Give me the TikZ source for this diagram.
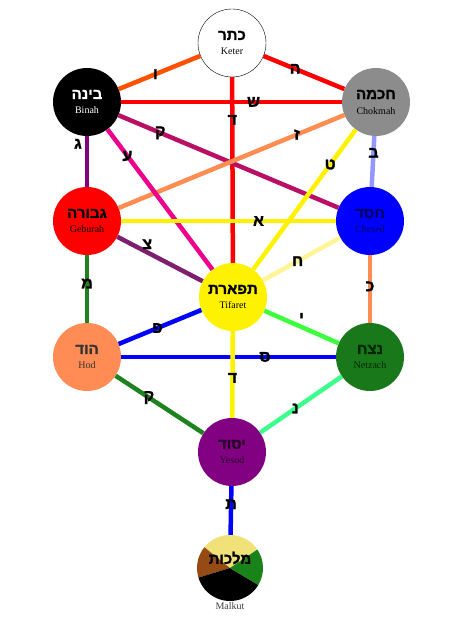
\documentclass[tikz,border=0pt]{standalone}
\usepackage{fontspec}
\usetikzlibrary{positioning}
\setmainfont{Liberation Serif}
\newfontfamily\hebfont[Script=Hebrew,BoldFeatures={FakeBold=1.5}]{Liberation Sans}
\TeXXeTstate=1
\newcommand{\heb}[1]{{\hebfont\bfseries\beginR #1\endR}}
\definecolor{chokgray}{RGB}{140,140,140}
\definecolor{hodorange}{RGB}{255,140,85}
\definecolor{netzgreen}{RGB}{25,120,25}
\definecolor{yespurple}{RGB}{130,0,130}
\definecolor{citrine}{RGB}{240,225,120}
\definecolor{russet}{RGB}{150,75,20}
\definecolor{malkgreen}{RGB}{25,130,25}
\definecolor{orangered}{RGB}{255,80,0}
\definecolor{crimsonp}{RGB}{185,15,100}
\definecolor{violetp}{RGB}{128,0,128}
\definecolor{lightorange}{RGB}{255,140,80}
\definecolor{lavender}{RGB}{150,150,255}
\definecolor{plump}{RGB}{125,30,110}
\definecolor{paleyellow}{RGB}{255,245,150}
\definecolor{pathgreen}{RGB}{30,130,30}
\definecolor{lightgreen}{RGB}{60,255,60}
\definecolor{springp}{RGB}{60,255,140}
\begin{document}
\begin{tikzpicture}[x=1pt,y=1pt,
	sefira/.style={circle,minimum size=68pt,inner sep=0pt,align=center,font=\fontsize{10}{15}\selectfont},
	conn/.style={line width=4.5pt},
	letter/.style={inner sep=0pt,text=black,font=\hebfont\bfseries\fontsize{16}{16}\selectfont}]
	\useasboundingbox (0,0) rectangle (464,619);
	% sefirot
	\node[sefira,fill=white,draw=black] (keter) at (232,576) {\heb{\fontsize{15}{15}\selectfont כתר}\\Keter};
	\node[sefira,fill=black,text=white] (binah) at (87,517) {\heb{\fontsize{15}{15}\selectfont בינה}\\Binah};
	\node[sefira,fill=chokgray] (chokmah) at (376,517) {\heb{\fontsize{15}{15}\selectfont חכמה}\\Chokmah};
	\node[sefira,fill=red] (geburah) at (87,398) {\heb{\fontsize{15}{15}\selectfont גבורה}\\Geburah};
	\node[sefira,fill=blue,text=blue!40!black] (chesed) at (370,398) {\heb{\fontsize{15}{15}\selectfont חסד}\\Chesed};
	\node[sefira,fill=yellow] (tifaret) at (233,322) {\heb{\fontsize{15}{15}\selectfont תפארת}\\Tifaret};
	\node[sefira,fill=hodorange,text=black!80] (hod) at (87,262) {\heb{\fontsize{15}{15}\selectfont הוד}\\Hod};
	\node[sefira,fill=netzgreen,text=black!85!green] (netzach) at (370,262) {\heb{\fontsize{15}{15}\selectfont נצח}\\Netzach};
	\node[sefira,fill=yespurple,text=black!70!violet] (yesod) at (232,167) {\heb{\fontsize{15}{15}\selectfont יסוד}\\Yesod};
	\node[circle,minimum size=66pt,inner sep=0pt] (malkut) at (230,51) {};
	\fill[citrine] (malkut.center) -- ++(34:33) arc[start angle=34,end angle=141,radius=33] -- cycle;
	\fill[russet] (malkut.center) -- ++(141:33) arc[start angle=141,end angle=197,radius=33] -- cycle;
	\fill[black] (malkut.center) -- ++(197:33) arc[start angle=197,end angle=329,radius=33] -- cycle;
	\fill[malkgreen] (malkut.center) -- ++(329:33) arc[start angle=329,end angle=394,radius=33] -- cycle;
	\node[font=\hebfont\bfseries\fontsize{15}{15}\selectfont] (malkheb) at ([yshift=10pt]malkut.center) {\beginR מלכות\endR};
	\node[below=1pt of malkut,inner sep=0pt,font=\fontsize{10}{10}\selectfont,text=black!75] (malklabel) {Malkut};
	% paths
	\draw[conn,red] (keter) -- node[letter,pos=.23] {ד} (tifaret);
	\draw[conn,orangered] (keter) -- node[letter,pos=.55] {ו} (binah);
	\draw[conn,red] (keter) -- node[letter,pos=.39] {ה} (chokmah);
	\draw[conn,red] (binah) -- node[letter,pos=.6] {ש} (chokmah);
	\draw[conn,crimsonp] (binah) -- node[letter,pos=.19] {ק} (chesed);
	\draw[conn,lightorange] (chokmah) -- node[letter,pos=.21] {ז} (geburah);
	\draw[conn,violetp] (binah) -- node[letter,pos=.15,left=3pt] {ג} (geburah);
	\draw[conn,magenta] (binah) -- node[letter,pos=.19] {ע} (tifaret);
	\draw[conn,yellow] (chokmah) -- node[letter,pos=.25] {ט} (tifaret);
	\draw[conn,lavender] (chokmah) -- node[letter,pos=.33] {ב} (chesed);
	\draw[conn,yellow] (geburah) -- node[letter,pos=.64] {א} (chesed);
	\draw[conn,plump] (geburah) -- node[letter,pos=.35,above=1pt] {צ} (tifaret);
	\draw[conn,paleyellow] (chesed) -- node[letter,pos=.55] {ח} (tifaret);
	\draw[conn,pathgreen] (geburah) -- node[letter,pos=.42] {מ} (hod);
	\draw[conn,lightorange] (chesed) -- node[letter,pos=.46] {כ} (netzach);
	\draw[conn,blue] (tifaret) -- node[letter,pos=.53] {פ} (hod);
	\draw[conn,lightgreen] (tifaret) -- node[letter,pos=.5,above=2pt] {י} (netzach);
	\draw[conn,blue] (hod) -- node[letter,pos=.67] {ס} (netzach);
	\draw[conn,yellow] (tifaret) -- node[letter,pos=.54] {ד} (yesod);
	\draw[conn,pathgreen] (hod) -- node[letter,pos=.38] {ק} (yesod);
	\draw[conn,springp] (netzach) -- node[letter,pos=.57] {נ} (yesod);
	\draw[conn,blue] (yesod) -- node[letter,pos=.37] {ת} (malkut);
\end{tikzpicture}
\end{document}
